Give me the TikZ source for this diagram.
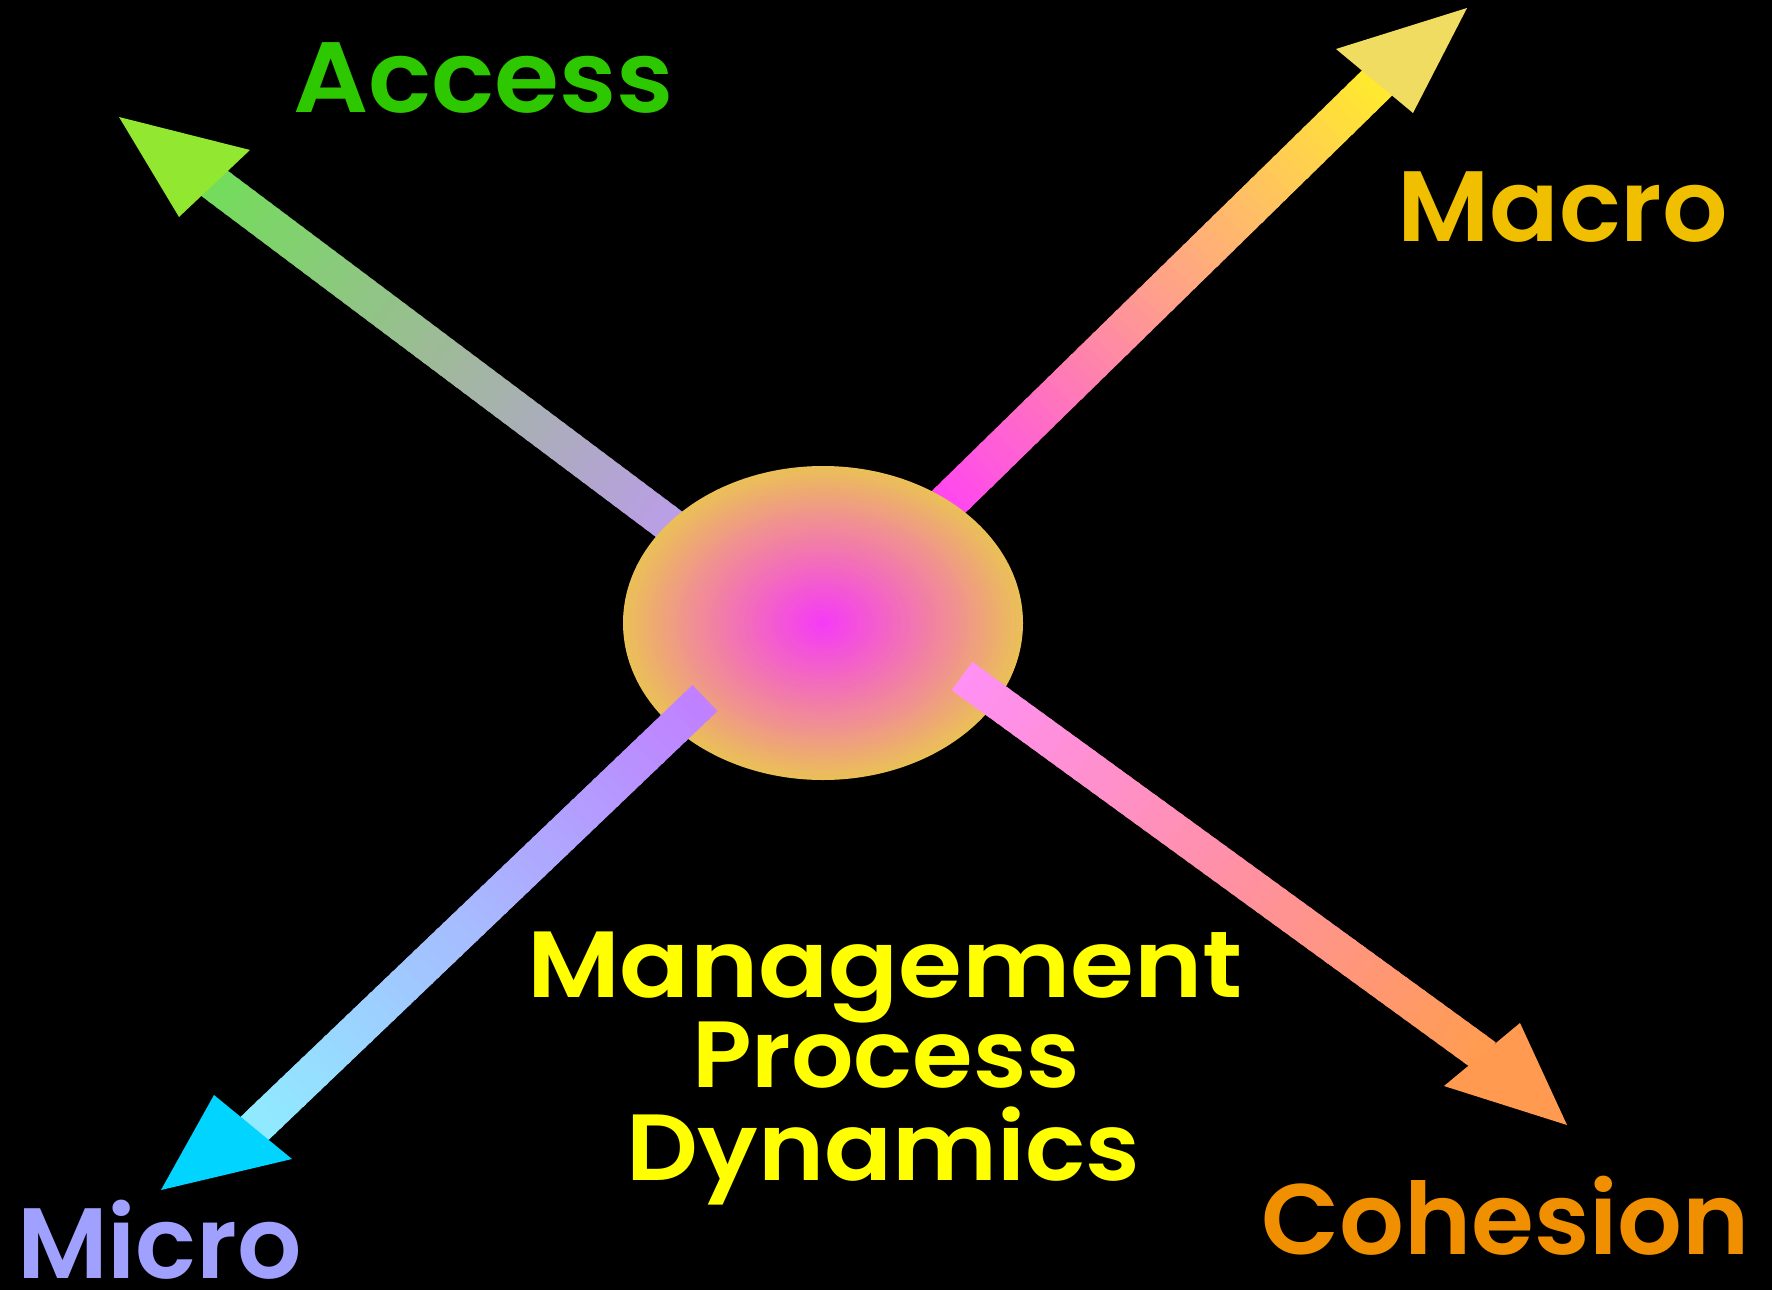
\documentclass[tikz,border=0pt]{standalone}
\usepackage{fontspec}
\setmainfont{Poppins}[BoldFont={* SemiBold}]
\usepackage{graphicx}
\usetikzlibrary{calc,shapes.geometric}
\definecolor{bg}{HTML}{000000}
% Access
\definecolor{accA}{HTML}{BC9CEC}\definecolor{accB}{HTML}{A0B89C}\definecolor{accC}{HTML}{74DC5C}\definecolor{accHead}{HTML}{92E830}
% Macro
\definecolor{macA}{HTML}{FF40F8}\definecolor{macB}{HTML}{FF9C90}\definecolor{macC}{HTML}{FFE830}\definecolor{macHead}{HTML}{F0DC60}
% Micro
\definecolor{micA}{HTML}{C080FF}\definecolor{micB}{HTML}{A8B8FF}\definecolor{micC}{HTML}{90EAFF}\definecolor{micHead}{HTML}{00D4FF}
% Cohesion
\definecolor{cohA}{HTML}{FF90F4}\definecolor{cohB}{HTML}{FF90A8}\definecolor{cohC}{HTML}{FF9C52}\definecolor{cohHead}{HTML}{FF9A50}
% hub
\definecolor{hubA}{HTML}{F53CF5}\definecolor{hubB}{HTML}{F09888}\definecolor{hubC}{HTML}{EBBF58}
% text
\definecolor{txtAccess}{HTML}{2EC800}\definecolor{txtMacro}{HTML}{F0C000}
\definecolor{txtMicro}{HTML}{A0A0FF}\definecolor{txtCohesion}{HTML}{F09000}
\definecolor{txtMain}{HTML}{FFFF00}
\newcommand\gradshaft[6]{% start, end, colour at start, middle, end, width
  \foreach \k in {0,...,59}{%
    \pgfmathtruncatemacro\pa{min(100,200*\k/59)}%
    \pgfmathtruncatemacro\pc{100-max(0,200*\k/59-100)}%
    \pgfmathsetmacro\ta{\k/60}%
    \pgfmathsetmacro\tb{(\k+1.4)/60}%
    \draw[shaftline, line width=#6, color={#4!\pa!#3!\pc!#5}] ($(#1)!\ta!(#2)$) -- ($(#1)!\tb!(#2)$);
  }}
\tikzset{
  shaftline/.style={line cap=butt},
  lbl/.style={anchor=base west, inner sep=0pt, outer sep=0pt},
}
\begin{document}
\begin{tikzpicture}[x=1pt,y=-1pt]
\fill[bg] (0,0) rectangle (1772,1290);
\useasboundingbox (0,0) rectangle (1772,1290);
% hub node
\node[ellipse, minimum width=400pt, minimum height=314pt, inner sep=0pt] (hub) at (823,623) {};
% coordinates
\coordinate (accS) at (690,540); \coordinate (accH) at (214,183); \coordinate (accT) at (119,117);
\coordinate (accL) at (250,150); \coordinate (accR) at (179,217);
\coordinate (macS) at (925,525); \coordinate (macH) at (1376,84); \coordinate (macT) at (1467,8);
\coordinate (macL) at (1336,49); \coordinate (macR) at (1413,113);
\coordinate (micS) at (705,698); \coordinate (micH) at (256,1127); \coordinate (micT) at (161,1190);
\coordinate (micL) at (214,1095); \coordinate (micR) at (292,1159);
\coordinate (cohS) at (962,676); \coordinate (cohH) at (1482,1054); \coordinate (cohT) at (1567,1125);
\coordinate (cohL) at (1444,1086); \coordinate (cohR) at (1520,1023);
% arrows behind the hub
\gradshaft{accS}{accH}{accA}{accB}{accC}{36pt}
\fill[accHead] (accT) -- (accL) -- (accR) -- cycle;
\gradshaft{macS}{macH}{macA}{macB}{macC}{39pt}
\fill[macHead] (macT) -- (macL) -- (macR) -- cycle;
% hub
\foreach \i in {0,...,50}{%
  \pgfmathsetmacro\f{1-\i/51}%
  \pgfmathtruncatemacro\pa{min(100,100*\i/14)}%
  \pgfmathtruncatemacro\pc{100-max(0,min(100,100*(\i-14)/36))}%
  \fill[color={hubB!\pa!hubC!\pc!hubA}] (hub.center) ellipse [x radius={200*\f}, y radius={157*\f}];
}
% arrows in front of the hub
\gradshaft{micS}{micH}{micA}{micB}{micC}{36pt}
\fill[micHead] (micT) -- (micL) -- (micR) -- cycle;
\gradshaft{cohS}{cohH}{cohA}{cohB}{cohC}{35pt}
\fill[cohHead] (cohT) -- (cohL) -- (cohR) -- cycle;
% labels
\node[lbl, text=txtAccess] (access) at (293,113) {\resizebox{381pt}{\height}{\fontsize{100}{100}\selectfont\bfseries Access}};
\node[lbl, text=txtMacro] (macro) at (1397,241) {\resizebox{331pt}{\height}{\fontsize{100}{100}\selectfont\bfseries Macro}};
\node[lbl, text=txtMicro] (micro) at (17,1278) {\resizebox{285pt}{\height}{\fontsize{100}{100}\selectfont\bfseries Micro}};
\node[lbl, text=txtCohesion] (cohesion) at (1261,1254) {\resizebox{489pt}{\height}{\fontsize{100}{100}\selectfont\bfseries Cohesion}};
\node[lbl, text=txtMain] (mgmt) at (527,997) {\resizebox{716pt}{\height}{\fontsize{94}{94}\selectfont\bfseries Management}};
\node[lbl, text=txtMain] (proc) at (692,1087) {\resizebox{388pt}{\height}{\fontsize{94}{94}\selectfont\bfseries Process}};
\node[lbl, text=txtMain] (dyn) at (626,1180) {\resizebox{514pt}{\height}{\fontsize{94}{94}\selectfont\bfseries Dynamics}};
\end{tikzpicture}
\end{document}
